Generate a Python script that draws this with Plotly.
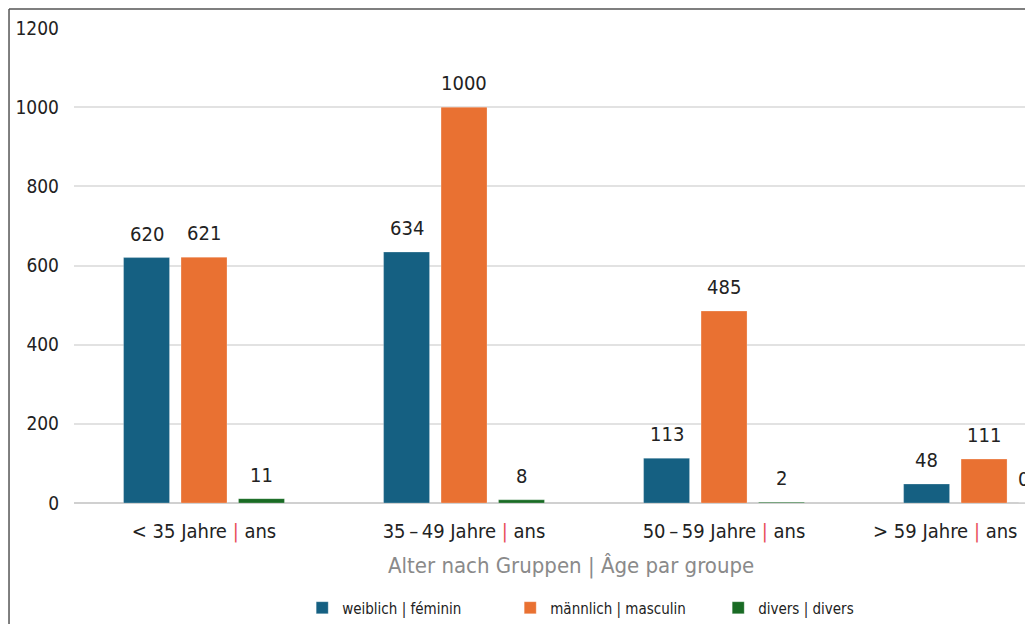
import plotly.graph_objects as go

categories = ["< 35 Jahre", "35 – 49 Jahre", "50 – 59 Jahre", "> 59 Jahre"]
tick_labels = [
    "&lt; 35 Jahre <span style='color:#E8505B'>|</span> ans",
    "35\u2009–\u200949 Jahre <span style='color:#E8505B'>|</span> ans",
    "50\u2009–\u200959 Jahre <span style='color:#E8505B'>|</span> ans",
    "&gt; 59 Jahre <span style='color:#E8505B'>|</span> ans",
]
series_names = ["weiblich | féminin", "männlich | masculin", "divers | divers"]
weiblich = [620, 634, 113, 48]
maennlich = [621, 1000, 485, 111]
divers = [11, 8, 2, 0]
colors = ["#156082", "#E97132", "#196B24"]

FONT = "DejaVu Sans Condensed, DejaVu Sans, sans-serif"

BARGAP = 0.337
BARGROUPGAP = 0.2
X_MIN, X_MAX = -0.5, 3.219

fig = go.Figure()
all_series = [weiblich, maennlich, divers]
for name, vals, col in zip(series_names, all_series, colors):
    fig.add_trace(go.Bar(
        name=name, x=categories, y=vals,
        marker=dict(color=col, line=dict(color="rgba(255,255,255,0.5)", width=0.5)),
        cliponaxis=False,
    ))

# value labels above each bar (offset of each bar within its group follows the bar layout)
n = len(all_series)
slot = (1 - BARGAP) / n
for i, vals in enumerate(all_series):
    for j, v in enumerate(vals):
        xpos = j + (i - (n - 1) / 2) * slot
        xpaper = (xpos - X_MIN) / (X_MAX - X_MIN)
        xshift = -18 if xpaper > 0.98 else 0
        fig.add_annotation(
            text=str(v), x=xpaper, y=v, xref="paper", yref="y",
            xanchor="center", yanchor="bottom", yshift=10, xshift=xshift,
            showarrow=False,
            font=dict(size=20, color="#222222", family=FONT),
        )

fig.update_layout(
    width=1033, height=624,
    margin=dict(l=66, r=0, t=20, b=129),
    paper_bgcolor="white", plot_bgcolor="white",
    barmode="group", bargap=BARGAP, bargroupgap=BARGROUPGAP,
    font=dict(family=FONT, color="#222222"),
    xaxis=dict(
        type="category", range=[X_MIN, X_MAX],
        tickvals=categories[:3], ticktext=tick_labels[:3],
        tickfont=dict(size=20, color="#222222"),
        showgrid=False, showline=False, ticks="", automargin=False,
        ticklabelstandoff=14,
    ),
    yaxis=dict(
        range=[0, 1200], dtick=200,
        tickfont=dict(size=19, color="#222222"),
        gridcolor="#E2E2E2", gridwidth=1.5,
        zeroline=True, zerolinecolor="#D0D0D0", zerolinewidth=2,
        ticks="", ticklabelstandoff=14, automargin=False,
    ),
    legend=dict(
        orientation="h", x=0.236, y=-0.221, xanchor="left", yanchor="middle",
        font=dict(size=15, color="#222222", family=FONT),
        entrywidth=163, entrywidthmode="pixels",
        itemclick=False,
    ),
    showlegend=True,
)

# last category label, shifted left so it stays inside the visible chart
fig.add_annotation(
    text=tick_labels[3], xref="x", yref="paper", x=2.85, y=-0.059,
    xanchor="center", yanchor="middle", showarrow=False,
    font=dict(size=20, color="#222222", family=FONT),
)

fig.add_annotation(
    text="Alter nach Gruppen | Âge par groupe",
    xref="paper", yref="paper", x=0.514, y=-0.1326,
    xanchor="center", yanchor="middle", showarrow=False,
    font=dict(size=22, color="#8A8A8A", family=FONT),
)

# frame lines (top and left)
fig.add_shape(type="line", xref="paper", yref="paper",
              x0=-0.0672, x1=1.2, y0=1.04, y1=1.04,
              line=dict(color="#555555", width=1.5))
fig.add_shape(type="line", xref="paper", yref="paper",
              x0=-0.0672, x1=-0.0672, y0=1.04, y1=-0.3,
              line=dict(color="#555555", width=1.5))

fig.write_html("out.html")
